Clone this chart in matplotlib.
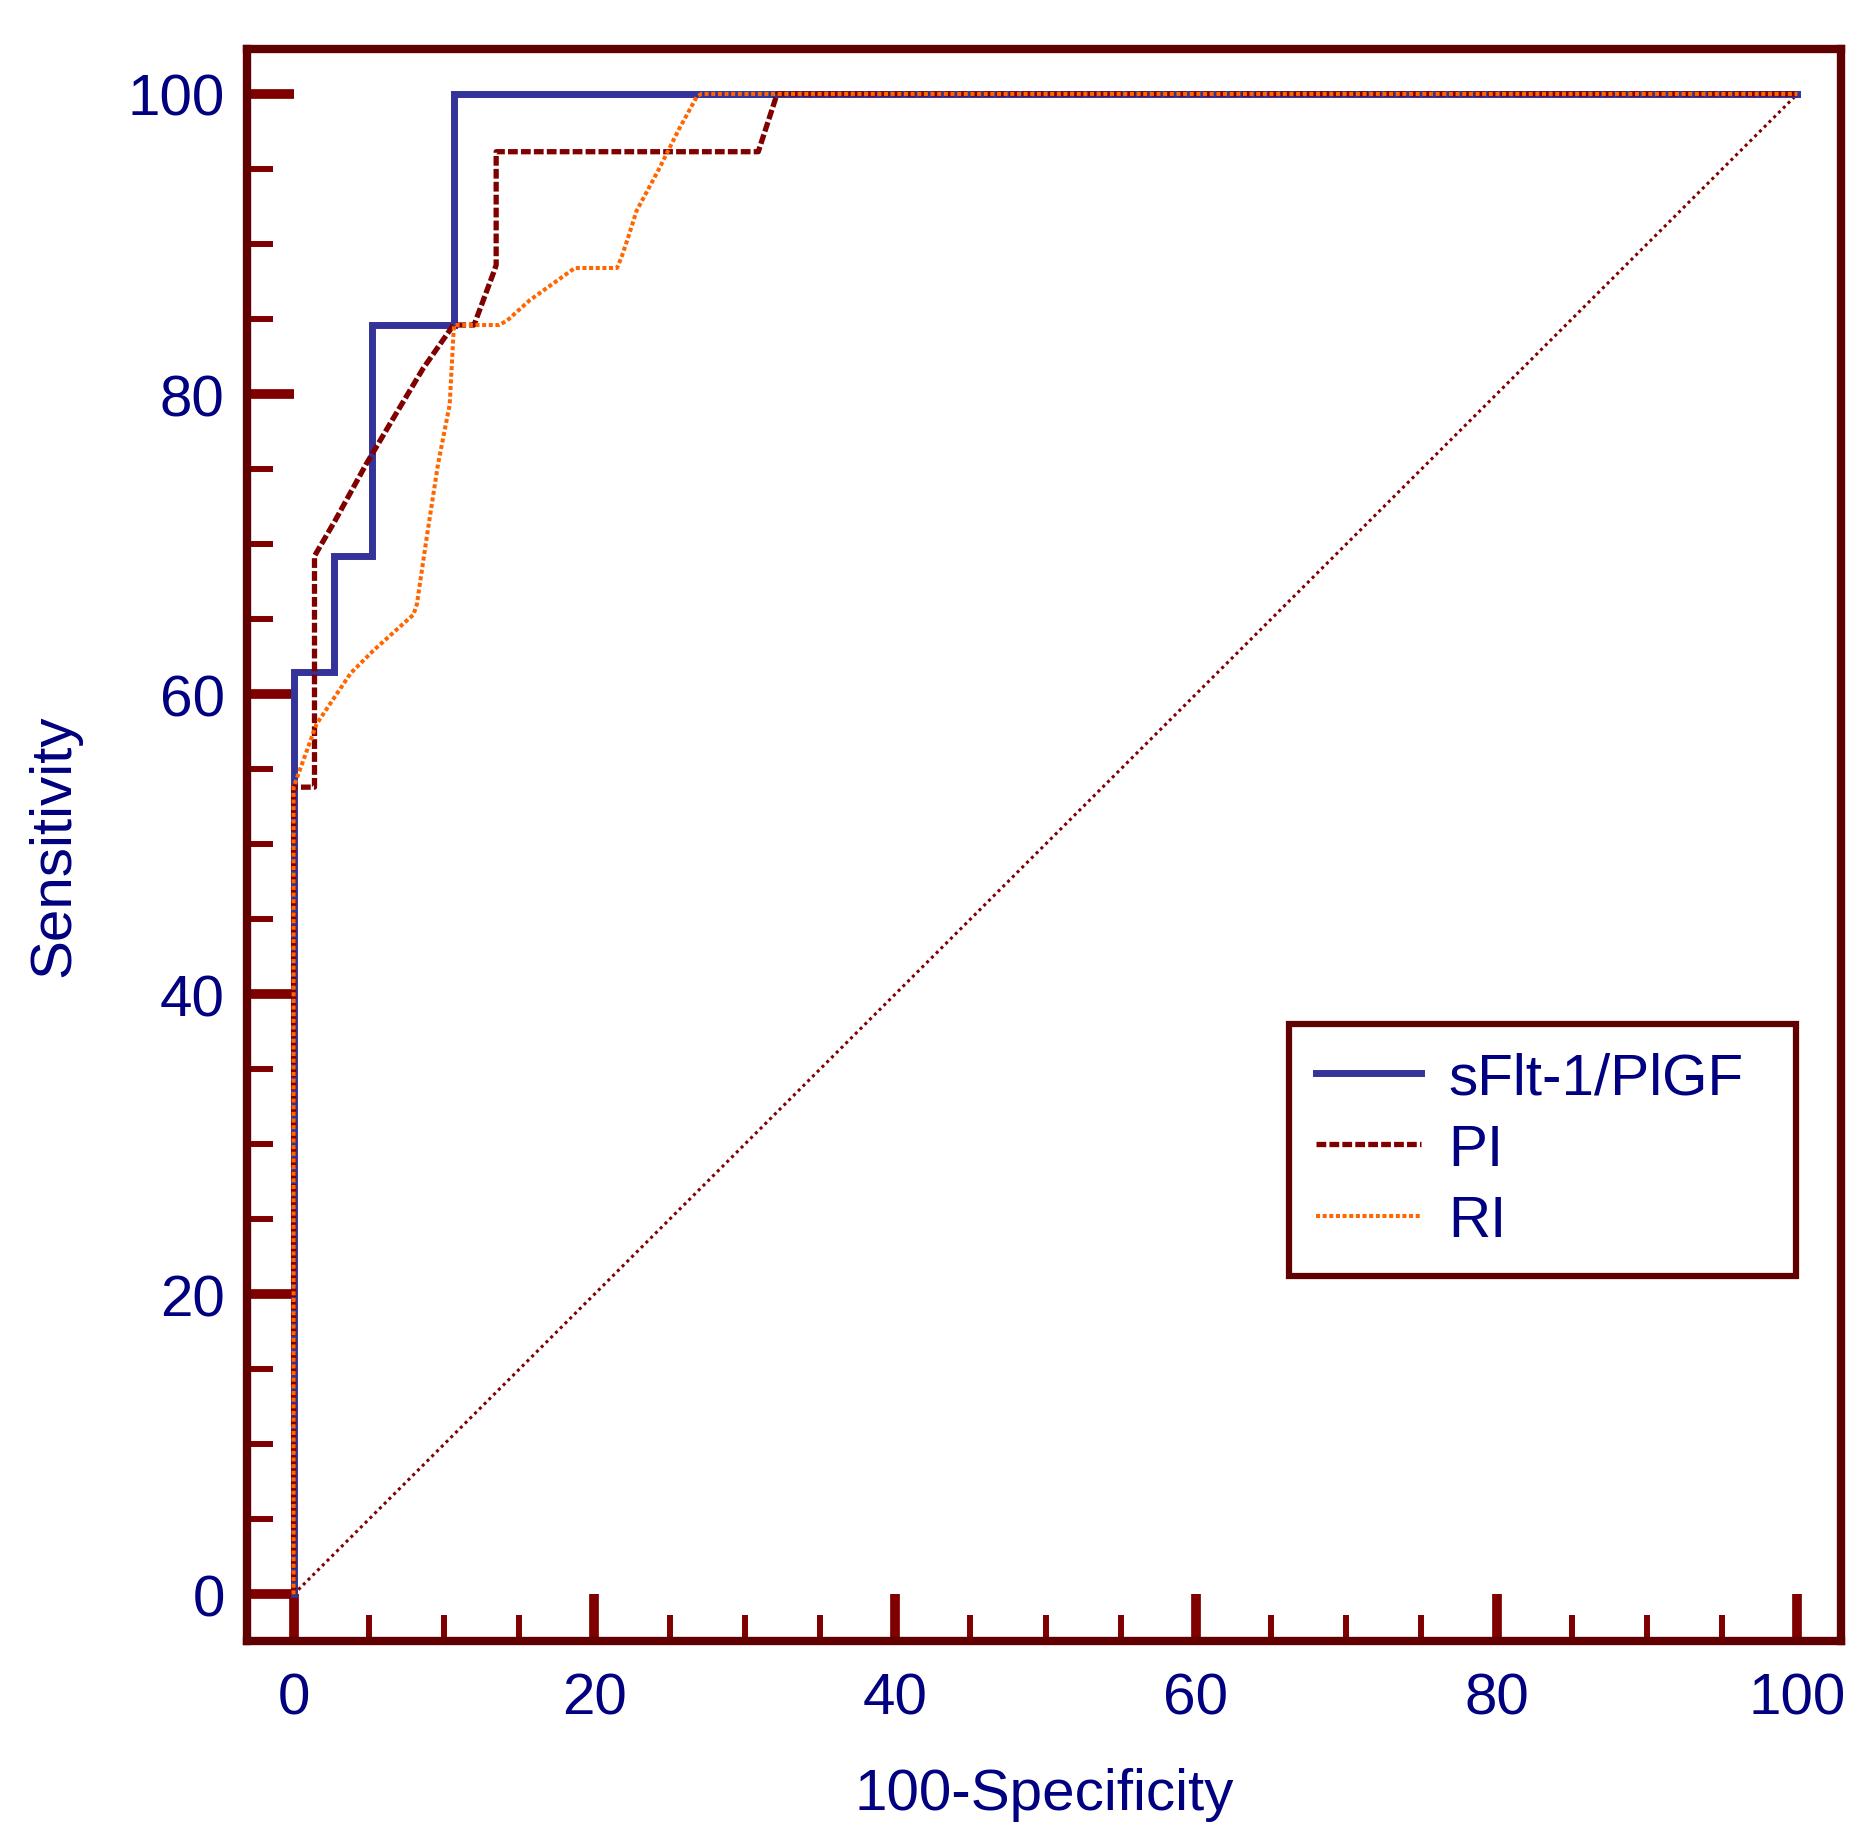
import numpy as np
import matplotlib
matplotlib.use('Agg')
import matplotlib.pyplot as plt

plt.rcParams['font.family'] = ['Liberation Sans', 'DejaVu Sans']

# ROC curves (x = 100-Specificity, y = Sensitivity)
sflt_x = [0, 0, 2.66, 2.66, 5.24, 5.24, 10.68, 10.68, 100]
sflt_y = [0, 61.5, 61.5, 69.2, 69.2, 84.6, 84.6, 100, 100]

pi_x = [0, 0, 1.39, 1.39, 2.78, 4.81, 6.58, 8.61, 10.63, 12.0, 13.3, 13.47, 13.47, 30.9, 32.15, 100]
pi_y = [0, 53.8, 53.8, 69.2, 71.6, 75.3, 78.3, 81.7, 84.6, 84.6, 88.1, 88.6, 96.15, 96.15, 100, 100]

ri_x = [0, 0, 1.52, 3.8, 5.3, 7.97, 8.2, 8.86, 9.6, 10.38, 10.63, 10.68, 13.67, 14.2, 15.7, 18.7,
        21.5, 21.8, 22.3, 22.8, 24.3, 25.6, 26.8, 27.1, 100]
ri_y = [0, 53.8, 58.0, 61.4, 62.9, 65.3, 66.0, 70.5, 75.3, 79.3, 84.0, 84.6, 84.6, 84.9, 86.25, 88.4,
        88.4, 89.1, 90.6, 92.2, 95.0, 97.6, 99.8, 100, 100]

diag = [0, 100]
labels = ['sFlt-1/PlGF', 'PI', 'RI']

navy = '#000080'
spine_col = '#600000'
tick_col = '#800000'
fs = 42

fig = plt.figure(figsize=(18.71, 18.49), dpi=100)
ax = fig.add_axes([0.132, 0.112, 0.852, 0.861])

ax.plot(diag, diag, color='#800000', lw=2.2, ls=(0, (1, 1.2)), zorder=2)
ax.plot(sflt_x, sflt_y, color='#333399', lw=5, label=labels[0], zorder=4,
        solid_joinstyle='miter')
ax.plot(pi_x, pi_y, color='#800000', lw=3.8, ls=(0, (1.85, 0.6)), label=labels[1], zorder=5)
ax.plot(ri_x, ri_y, color='#ff6600', lw=2.9, ls=(0, (1, 0.65)), label=labels[2], zorder=6)

ax.set_xlim(-3.1, 102.9)
ax.set_ylim(-3.1, 103.0)
ax.set_xticks(np.arange(0, 101, 20))
ax.set_yticks(np.arange(0, 101, 20))
ax.set_xticks(np.arange(0, 101, 5), minor=True)
ax.set_yticks(np.arange(0, 101, 5), minor=True)

ax.tick_params(which='major', direction='in', length=34, width=7, color=tick_col,
               labelcolor=navy, labelsize=fs, pad=16)
ax.tick_params(which='minor', direction='in', length=19, width=4.3, color=tick_col)
ax.tick_params(axis='x', which='major', pad=22)

for s in ax.spines.values():
    s.set_color(spine_col)
    s.set_linewidth(6)

ax.set_xlabel('100-Specificity', fontsize=fs, color=navy, labelpad=30)
ax.set_ylabel('Sensitivity', fontsize=fs, color=navy, labelpad=33)

# legend box stretched to the width seen in the picture
leg = ax.legend(loc='lower left', bbox_to_anchor=(0.6535, 0.2295, 0.318, 0.2),
                mode='expand', borderaxespad=0,
                fontsize=fs, handlelength=1.8, labelspacing=0.3, borderpad=0.47,
                handletextpad=0.47, fancybox=False, framealpha=1)
leg.get_frame().set_edgecolor(spine_col)
leg.get_frame().set_linewidth(4.5)
for t in leg.get_texts():
    t.set_color(navy)

fig.savefig('out.png', dpi=100)
